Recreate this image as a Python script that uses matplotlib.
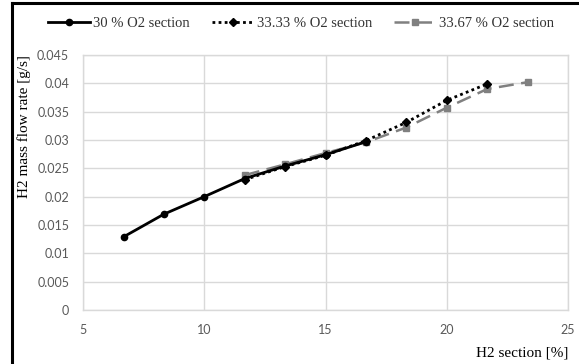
import matplotlib.pyplot as plt
from matplotlib.lines import Line2D

# H2 section [%] and H2 mass flow rate [g/s] for each O2 section
x_30 = [6.67, 8.33, 10.0, 11.67, 13.33, 15.0, 16.67]
y_30 = [0.0129, 0.0169, 0.0200, 0.0232, 0.0254, 0.0274, 0.0297]

x_3333 = [11.67, 13.33, 15.0, 16.67, 18.33, 20.0, 21.67]
y_3333 = [0.0230, 0.0253, 0.0273, 0.0299, 0.0331, 0.0370, 0.0399]

x_3367 = [11.67, 13.33, 15.0, 16.67, 18.33, 20.0, 21.67, 23.33]
y_3367 = [0.0238, 0.0257, 0.0277, 0.0296, 0.0322, 0.0357, 0.0390, 0.0402]

x_ticks = [5, 10, 15, 20, 25]
y_ticks = [0, 0.005, 0.01, 0.015, 0.02, 0.025, 0.03, 0.035, 0.04, 0.045]
y_tick_labels = ['0', '0.005', '0.01', '0.015', '0.02', '0.025', '0.03',
                 '0.035', '0.04', '0.045']

serif = 'Liberation Serif'
grey_txt = '#595959'
grid_c = '#d9d9d9'

fig = plt.figure(figsize=(5.79, 3.64), dpi=100)
ax = fig.add_axes([0.1434, 0.1484, 0.8376, 0.7005])

# series
ax.plot(x_30, y_30, color='black', lw=2.0, marker='o', ms=4.5,
        label='30 % O2 section', zorder=3)
ax.plot(x_3333, y_3333, color='black', lw=2.0, ls=(0, (1, 1.2)),
        marker='D', ms=4.5, label='33.33 % O2 section', zorder=4)
ax.plot(x_3367, y_3367, color='#808080', lw=1.8, ls=(0, (6, 3)),
        marker='s', ms=4, label='33.67 % O2 section', zorder=2)

ax.set_xlim(5, 25)
ax.set_ylim(0, 0.045)
ax.set_xticks(x_ticks)
ax.set_yticks(y_ticks)
ax.set_yticklabels(y_tick_labels)
ax.grid(True, color=grid_c, lw=1.0)
ax.set_axisbelow(True)
ax.tick_params(length=0, labelsize=9, labelcolor=grey_txt)
ax.tick_params(axis='y', pad=10)
ax.tick_params(axis='x', pad=10)
for lab in ax.get_xticklabels() + ax.get_yticklabels():
    lab.set_fontfamily('Lato')
for s in ax.spines.values():
    s.set_color(grid_c)
    s.set_linewidth(1.0)

ax.set_xlabel('H2 section [%]', fontfamily=serif, fontsize=11,
              loc='right', labelpad=8)
ax.set_ylabel('H2 mass flow rate [g/s]', fontfamily=serif, fontsize=11,
              loc='top')
ax.yaxis.set_label_coords(-0.108, 1.0)

leg = fig.legend(loc='center', bbox_to_anchor=(0.52, 0.935), ncol=3,
                 frameon=False, prop={'family': serif, 'size': 10.5},
                 handlelength=2.9, handletextpad=0.2, columnspacing=1.5,
                 markerscale=1.0)
for t in leg.get_texts():
    t.set_color('#333333')

# border of the chart (left and top edges only, as cropped)
fig.add_artist(Line2D([12 / 579, 12 / 579], [0, 1 - 3 / 364],
                      transform=fig.transFigure, color='black', lw=2.2))
fig.add_artist(Line2D([12 / 579, 1], [1 - 3 / 364, 1 - 3 / 364],
                      transform=fig.transFigure, color='black', lw=2.2))

fig.savefig('out.png', dpi=100)
